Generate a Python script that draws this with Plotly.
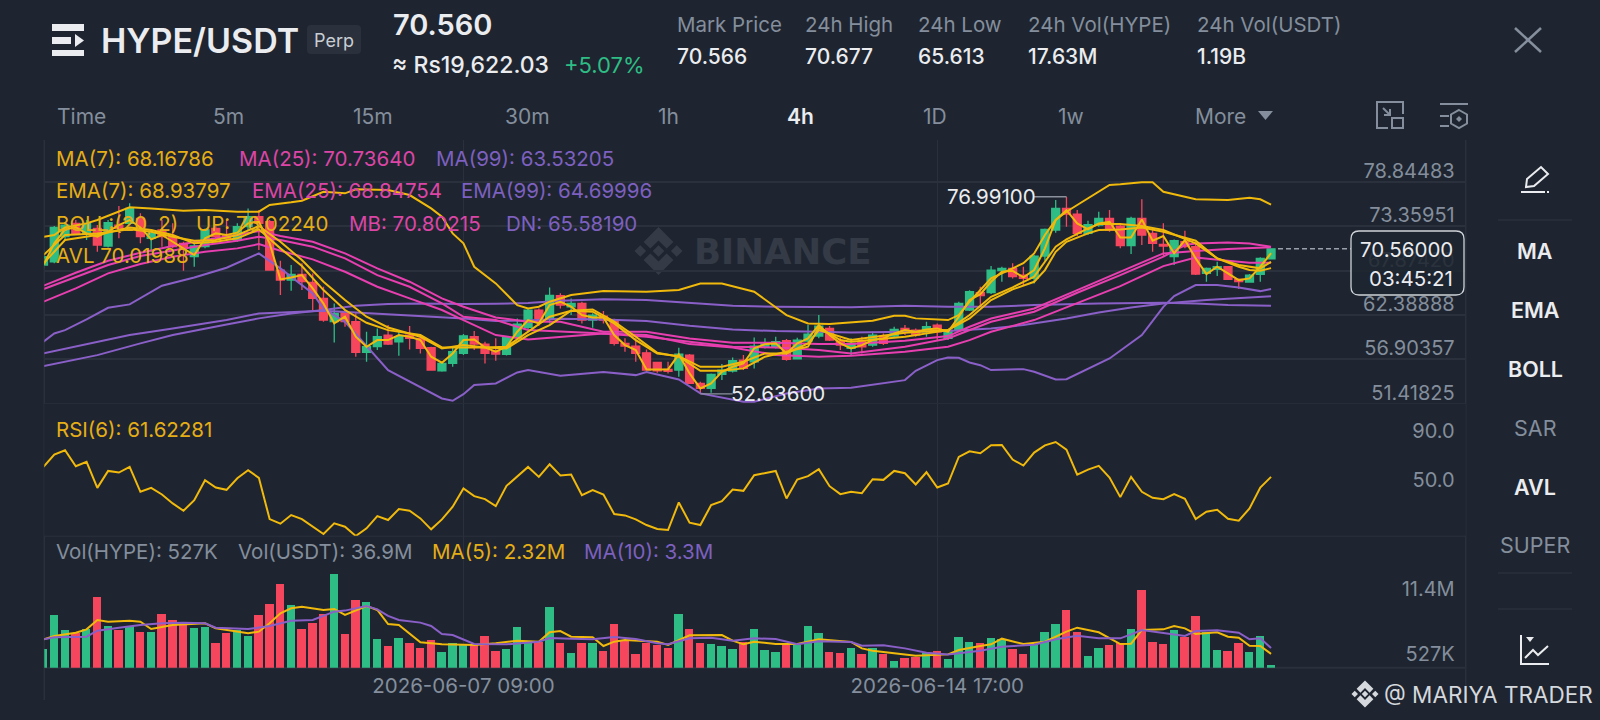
import pandas as pd
import plotly.graph_objects as go

# -----------------------------
# data (4h candles)
# -----------------------------
OPEN = [68.55,68.96,72.05,73.7,72.46,73.08,70.9,73.49,73.7,74.32,71.85,72.88,72.05,71.23,69.58,70.82,73.08,72.26,71.64,73.29,
        74.52,73.91,67.93,66.7,67.4,66.41,64.43,61.55,62.66,61.55,57.76,58.46,59.9,59.07,59.9,59.49,58.33,55.49,56.4,57.63,
        59.69,58.79,57.92,57.51,59.61,60.85,62.99,61.96,64.76,63.4,63.81,61.75,62.25,61.75,58.87,58.54,57.71,56.52,55.65,55.57,
        57.43,53.92,53.31,55.04,55.45,56.81,56.6,58.37,58.46,59.2,56.97,59.16,59.77,60.72,59.16,58.25,59.07,58.66,59.77,59.77,
        60.72,60.51,60.31,61.13,59.49,60.51,62.99,65.13,65.13,67.85,68.14,67.31,66.9,69.66,72.87,75.55,74.85,72.46,73.49,74.32,
        73.37,70.94,74.32,72.46,71.1,69.58,71.43,70.82,67.52,68.01,68.34,66.78,66.45,67.4,69.33]
HIGH = [70.4,73.37,73.7,74.11,74.11,73.49,74.11,75.84,76.17,74.94,72.88,74.11,73.7,71.43,71.23,73.08,73.37,74.11,73.7,75.55,
        75.35,74.11,69.09,68.55,68.76,67.52,65.87,63.81,62.99,62.58,60.31,60.72,61.13,60.31,61.01,59.9,58.46,56.6,58.37,60.02,
        60.39,59.07,59.49,59.78,61.96,63.19,63.19,65.79,65.05,64.43,64.02,62.58,62.86,61.92,59.49,59.49,58.13,56.6,56.6,58.33,
        57.55,54.13,55.16,56.31,57.14,57.43,59.61,59.49,59.69,59.4,59.57,61.13,62.37,61.01,59.57,59.49,59.69,60.31,60.1,60.93,
        61.13,60.72,61.55,61.34,60.6,64.02,65.45,65.87,68.43,68.34,68.77,68.34,69.79,73.08,76.58,76.991,75.35,74.03,75.14,75.35,
        73.49,74.52,76.67,73.08,73.7,71.72,72.79,71.43,68.26,68.96,68.43,66.9,67.44,69.5,70.56]
LOW = [68.14,68.76,71.64,72.26,71.64,70.2,70.73,71.85,73.49,71.23,70.2,70.82,70.61,67.85,68.34,70.61,71.64,71.64,71.43,72.88,
       70.4,67.85,64.84,65.38,65.46,62.99,61.55,58.99,60.93,57.22,56.6,58.04,58.66,57.34,58.13,57.63,55.49,55.37,55.98,57.43,
       58.04,56.4,56.73,57.38,59.49,60.31,61.01,61.34,63.19,62.37,61.34,60.8,61.34,58.62,57.84,56.6,55.49,55.24,55.16,54.75,
       53.84,52.636,52.77,54.34,55.28,55.57,55.78,58.25,58.25,56.73,56.89,59.03,59.49,59.16,58.04,57.43,57.63,58.45,58.66,59.6,
       59.9,59.69,59.69,59.28,59.28,60.39,62.86,63.4,64.96,66.49,66.9,65.95,66.28,69.09,72.55,73.29,72.13,72.26,73.29,72.67,
       70.61,69.91,71.02,70.2,69.58,68.55,70.61,67.31,66.49,67.19,66.69,65.58,66.37,66.49,69.29]
CLOSE = [69.58,73.21,73.49,72.38,73.7,71.02,73.78,73.08,75.55,72.05,72.46,72.05,70.82,70.61,70.9,72.88,72.05,71.85,73.29,74.52,
         73.7,67.93,66.7,67.4,66.49,64.43,61.75,62.58,61.55,57.76,58.46,59.69,58.79,59.69,59.49,58.25,55.57,56.4,57.84,59.8,
         58.79,57.63,57.55,59.61,61.26,62.99,61.96,64.8,63.61,63.81,61.75,62.37,61.75,58.87,58.54,57.63,55.57,55.49,55.41,57.55,
         53.92,53.31,55.04,55.57,56.73,55.78,58.54,58.87,59.07,56.89,59.28,60.02,61.01,59.28,58.66,58.87,58.45,59.9,58.87,60.6,
         60.31,59.9,60.93,60.31,60.51,63.81,65.25,64.76,67.93,68.14,67.11,66.9,69.66,72.96,75.55,74.85,72.46,73.54,74.32,72.87,
         70.94,74.32,72.26,71.23,70.9,71.56,70.82,67.44,68.14,68.34,66.78,66.49,67.31,69.37,70.56]

AVL = [68.55,71.23,72.96,73.2,72.46,72.05,72.67,73.49,74.11,73.2,71.72,72.26,71.43,70.61,69.79,71.85,72.46,72.26,72.55,73.7,
       73.91,71.23,66.78,67.02,67.31,65.66,63.81,61.34,62.16,59.69,58.45,59.28,59.28,59.9,59.69,59.28,57.22,56.48,57.63,59.28,
       59.36,58.37,57.84,58.46,60.31,61.75,61.34,63.61,64.02,63.4,62.37,62.08,62.08,59.9,58.66,58.04,55.65,55.65,55.65,57.51,
       55.16,53.3,53.92,55.36,55.98,56.39,58.25,58.78,58.87,57.63,58.87,59.49,61.13,59.9,58.87,58.25,58.66,59.28,59.49,60.1,
       60.51,60.3,60.59,60.72,60.3,62.16,64.22,64.96,66.48,67.72,67.84,67.02,67.93,70.61,74.11,75.34,73.7,72.95,73.7,73.9,
       71.96,71.96,74.19,71.55,72.13,69.99,71.64,69.37,67.43,68.34,67.51,66.69,66.9,68.34,70.02]

MA7_K = [0,2,5,8,10,12,14,16,18,20,22,24,26,28,30,32,35,37,39,41,43,45,47,49,51,53,55,57,59,61,63,65,67,69,71,72,74,75,80,84,86,88,90,92,93,94,95,97,98,100,102,104,107,109,111,112,113,114]
MA7 = [68.75,71.64,72.26,73.2,72.88,72.26,71.23,71.43,71.85,72.96,70.61,68.43,65.46,62.99,61.42,60.51,59.9,58.37,58.37,58.37,58.25,59.9,61.13,62.91,63.07,61.55,59.69,57.71,57.22,55.49,55.49,55.78,57.22,57.84,58.46,60.84,59.28,59.07,59.69,60.51,61.95,64.22,65.54,66.48,67.93,70.19,71.43,72.46,72.87,72.95,73.2,72.67,71.55,69.37,68.34,67.93,67.85,68.168]
EMA7_K = [0,2,5,8,10,12,14,16,18,20,22,24,26,28,30,32,35,37,39,41,43,45,47,49,51,53,55,57,59,61,63,65,67,69,71,72,74,75,80,84,86,88,90,92,93,94,95,97,98,100,102,104,107,109,111,113,114]
EMA7 = [69.79,72.26,72.46,72.96,72.67,72.05,71.56,71.64,72.26,73.37,71.43,69.17,66.49,64.22,62.16,60.84,59.69,58.25,58.66,58.37,58.46,60.31,62.16,62.91,62.78,61.34,59.28,57.63,57.3,55.98,55.98,56.6,57.63,57.63,58.87,60.52,59.69,59.28,60.19,60.51,62.37,64.63,65.79,67.11,68.96,70.81,71.72,73.08,73.62,73.62,73.37,72.87,71.23,69.37,68.55,68.14,68.938]

PINK_K = [0,3,6,9,12,15,18,20,22,25,28,31,34,37,39,42,45,48,52,56,60,64,68,72,75]
MA25 = [66.0,67.6,69.08,70.07,70.9,71.64,72.26,72.75,72.13,71.43,69.99,68.14,66.49,64.43,63.4,62.08,61.55,61.55,60.31,60.31,59.48,58.95,58.95,58.78,58.78]
BOLL_MID = [65.58,67.11,68.55,69.66,70.32,71.02,71.56,72.05,71.64,70.82,69.37,67.31,65.87,63.81,62.16,61.75,60.52,60.31,60.1,59.69,59.07,58.45,58.37,58.04,57.63]
EMA25 = [64.02,65.66,67.52,68.67,69.58,70.2,70.61,71.14,70.32,69.25,67.72,65.87,64.43,62.99,61.75,59.9,59.36,59.69,60.1,59.9,58.78,58.37,57.43,57.22,57.34]
MA25_K2 = [80,84,86,88,92,96,100,104,107,110,114]
MA25_2 = [59.19,59.77,60.92,61.95,63.19,65.45,67.72,69.99,70.28,70.52,70.736]
BOLL_MID_K2 = [80,84,86,88,92,96,100,104,106,107,110,112,114]
BOLL_MID_2 = [58.45,59.48,60.51,61.54,62.78,65.13,67.31,69.58,71.02,71.22,71.35,71.22,70.802]
EMA25_K2 = [80,84,86,88,92,96,100,104,107,110,112,114]
EMA25_2 = [57.83,58.45,59.27,60.3,61.75,63.81,65.95,68.42,69.49,69.08,68.83,68.848]

MA99_K = [0,5,9,12,17,20,23,26,29,32,35,39,42,45,48,52,56,60,64,68,72,75,80,84,88,92,98,104,107,110,114]
MA99 = [56.06,57.42,58.87,59.9,61.21,61.96,62.57,62.99,63.52,63.73,63.81,63.73,63.77,63.85,64.14,64.31,64.22,63.89,63.52,63.4,63.32,63.32,63.52,63.39,63.39,63.6,63.81,63.89,63.81,63.6,63.532]
EMA99_K = [0,5,8,12,17,20,23,26,29,32,35,39,42,45,48,52,56,60,64,68,72,75,80,84,88,91,95,98,101,104,108,114]
EMA99 = [57.63,58.99,59.9,60.72,61.75,62.57,62.78,62.9,62.7,62.49,62.29,61.96,61.63,61.71,61.92,61.83,61.63,61.05,60.6,60.39,60.31,60.23,60.3,60.39,60.72,61.13,61.95,62.69,63.31,63.81,64.22,64.7]

BOLL_UP_K = [0,1,2,4,5,7,8,10,13,15,18,20,21,23,24,26,28,29,32,34,36,37,38,39,40,42,44,45,46,47,49,52,56,59,61,63,66,69,71,73,75,77,79,80,81,84,85,86,88,90,91,92,93,94,95,96,97,99,100,102,103,104,107,110,112,113,114]
BOLL_UP = [72.05,72.26,73.2,73.7,74.11,75.14,75.68,75.55,75.26,75.35,75.14,75.14,75.97,76.3,76.5,77.61,77.41,77.9,77.82,77.2,75.55,74.52,72.46,71.23,68.34,66.28,63.6,63.19,63.4,64.02,64.84,65.34,65.25,65.46,66.28,66.28,65.25,62.37,61.34,61.26,61.46,61.67,62.29,62.29,61.96,61.75,62.37,64.02,66.9,68.14,68.77,69.99,72.26,74.11,75.14,75.97,76.79,78.44,78.52,78.77,78.77,77.61,76.67,76.58,76.87,76.67,76.022]
BOLL_DN_K = [0,1,2,4,6,8,11,14,17,20,22,25,26,28,32,35,37,38,39,40,42,44,45,48,52,55,56,59,61,65,66,69,72,75,80,81,83,84,85,86,87,88,91,92,94,95,97,99,102,104,105,107,109,111,113,114]
BOLL_DN = [59.07,60.1,60.51,61.83,63.27,63.69,66.0,67.02,68.22,69.99,68.14,65.05,63.19,61.54,55.57,53.51,52.07,51.78,52.6,53.72,53.92,55.28,55.57,54.87,55.32,54.95,55.32,54.42,52.69,51.66,51.66,52.69,53.3,53.39,54.33,55.48,56.8,57.13,57.09,56.51,56.18,55.57,55.69,55.36,54.41,54.45,55.77,57.01,59.89,63.39,64.71,66.07,66.07,65.78,65.33,65.582]

RSI = [69.74,79.75,83.26,70.28,73.8,52.7,66.49,65.14,69.74,49.46,52.7,47.29,39.99,34.04,42.69,58.92,52.97,51.08,60.54,67.04,
       60.82,27.28,23.49,30.52,27.28,21.06,15.11,23.76,21.06,13.49,19.71,29.71,26.47,35.39,34.04,27.82,18.9,27.01,37.29,52.16,
       45.94,43.51,37.83,54.32,62.17,69.74,61.63,71.9,62.71,63.52,46.75,50.81,47.29,31.34,30.25,27.01,22.41,19.17,18.35,40.8,
       24.3,22.41,38.64,41.88,51.35,50.27,62.98,64.6,66.49,44.05,59.46,62.17,67.85,54.05,47.56,49.46,48.37,59.73,59.19,66.49,
       64.6,55.41,65.41,52.97,56.22,77.85,82.45,80.83,87.32,87.59,75.69,70.82,81.37,87.32,90.02,83.8,63.52,67.58,70.55,61.09,
       45.13,61.63,49.46,44.59,43.51,47.56,43.78,27.28,33.23,34.85,27.55,25.93,35.93,52.97,61.62]

VOLUME = [3.25,8.87,6.34,5.89,6.62,11.95,7.01,6.45,7.13,6.06,6.06,9.03,8.02,7.58,6.68,6.9,4.15,5.95,6.34,5.33,
          8.92,10.72,14.2,10.66,6.57,7.58,9.03,15.77,5.67,11.39,11.17,4.88,3.7,5.11,4.26,3.37,4.66,2.64,4.26,4.1,
          3.82,5.44,2.86,3.14,6.85,4.26,4.38,10.27,4.15,2.53,4.15,4.21,2.86,7.35,4.66,2.41,4.26,3.82,3.42,9.09,
          6.57,4.15,4.04,3.65,3.2,4.38,6.51,2.97,2.64,3.82,3.82,7.13,5.95,2.69,2.47,3.31,2.41,3.42,2.41,1.23,
          1.63,1.85,2.53,2.81,1.52,5.22,4.38,4.26,5.11,4.94,3.2,2.41,3.82,6.06,7.35,9.82,6.12,2.08,3.37,3.82,
          4.26,6.62,13.08,4.43,4.1,6.4,5.22,8.7,6.06,3.03,2.92,4.15,2.69,5.39,0.527]
VOL_MA5_K = [0,1,3,4,5,6,8,9,10,12,15,16,19,20,21,22,23,24,26,27,28,30,31,32,33,35,37,40,42,44,46,47,48,49,51,52,53,54,57,58,60,63,64,65,66,68,70,72,75,76,77,79,81,84,85,87,88,89,91,93,95,96,98,100,101,102,104,105,106,107,109,110,111,112,113,114]
VOL_MA5 = [4.77,5.33,5.89,6.45,8.02,7.74,7.91,7.74,6.51,7.18,7.46,6.62,5.78,6.06,7.46,9.15,9.99,10.27,9.71,9.88,8.87,10.38,9.71,7.35,7.18,4.26,3.93,3.82,4.1,4.55,4.38,5.95,6.17,5.22,5.11,3.65,4.38,4.66,4.38,3.82,5.44,5.5,4.55,3.93,4.38,3.98,3.98,4.77,4.32,3.25,2.86,2.41,2.02,2.24,2.97,3.65,3.93,4.88,3.98,4.38,6.06,6.73,5.95,3.98,4.04,6.34,6.45,7.01,6.62,5.67,5.95,5.22,5.05,3.7,3.65,2.32]
VOL_MA10_K = [0,1,4,5,7,9,11,13,15,16,19,21,23,25,27,28,30,31,32,33,35,36,37,38,40,43,46,47,49,51,53,55,57,58,60,62,64,66,68,70,72,75,76,78,80,82,84,87,89,92,94,96,98,100,101,102,106,107,109,111,112,113,114]
VOL_MA10 = [4.77,5.11,5.22,6.23,6.73,7.18,7.46,7.58,7.46,6.73,6.51,7.01,7.91,8.02,9.43,9.6,10.38,9.82,8.7,8.02,7.58,7.01,5.67,5.5,3.98,3.93,4.38,4.99,4.88,4.77,5.16,4.83,4.1,3.93,4.94,5.05,4.55,4.94,4.83,3.93,4.43,4.32,3.7,3.76,3.25,2.53,2.24,2.86,3.54,3.87,4.77,5.39,4.94,4.94,5.61,6.34,5.33,6.17,6.29,5.89,4.77,4.94,3.3]

PRICE_TICKS = [78.84483, 73.35951, 67.87420, 62.38888, 56.90357, 51.41825]
RSI_TICKS = [90, 50]
VOL_TICKS = [11.4, 0.527]
VOL_TICK_TEXT = ["11.4M", "527K"]
TIME_TICKS = ["2026-06-07 09:00", "2026-06-14 17:00"]
LAST_PRICE = 70.56
HIGH_LABEL, LOW_LABEL = 76.991, 52.636

DATES = pd.date_range("2026-05-31 21:00", periods=len(CLOSE), freq="4h")

BG = "#1e2530"
GRID = "#2a313c"
GREY = "#848e9c"
WHITE = "#eaecef"
GREEN = "#2ebd85"
RED = "#f6465d"
YELLOW = "#f0b90b"
PINK = "#e83fb0"
PURPLE = "#8a5fc8"
FONT = "Inter, Noto Sans, sans-serif"
W, H = 1600, 720


def px(x):
    return x / W


def py(y):
    return 1 - y / H


def path(points, close=True):
    s = " ".join(("M" if i == 0 else "L") + f"{px(x)},{py(y)}" for i, (x, y) in enumerate(points))
    return s + (" Z" if close else "")


def rrect(x0, y0, x1, y1, r):
    return (f"M{px(x0 + r)},{py(y0)} L{px(x1 - r)},{py(y0)} Q{px(x1)},{py(y0)} {px(x1)},{py(y0 + r)} "
            f"L{px(x1)},{py(y1 - r)} Q{px(x1)},{py(y1)} {px(x1 - r)},{py(y1)} "
            f"L{px(x0 + r)},{py(y1)} Q{px(x0)},{py(y1)} {px(x0)},{py(y1 - r)} "
            f"L{px(x0)},{py(y0 + r)} Q{px(x0)},{py(y0)} {px(x0 + r)},{py(y0)} Z")


def binance_logo(cx, cy, r, color, layer="below"):
    parts = []
    for dx in (-0.76, 0, 0.76):
        parts.append(path([(cx + (dx - 0.24) * r, cy), (cx + dx * r, cy - 0.24 * r),
                           (cx + (dx + 0.24) * r, cy), (cx + dx * r, cy + 0.24 * r)]))
    for s in (-1, 1):
        parts.append(path([(cx, cy + s * r), (cx + 0.62 * r, cy + s * 0.38 * r), (cx + 0.34 * r, cy + s * 0.1 * r),
                           (cx, cy + s * 0.44 * r), (cx - 0.34 * r, cy + s * 0.1 * r), (cx - 0.62 * r, cy + s * 0.38 * r)]))
    return dict(type="path", xref="paper", yref="paper", path=" ".join(parts), fillcolor=color,
                line=dict(width=0), layer=layer)


def line_shape(points, color=GREY, width=2, close=False, fill=None, layer="above"):
    d = dict(type="path", xref="paper", yref="paper", path=path(points, close),
             line=dict(color=color, width=width), layer=layer)
    if fill:
        d["fillcolor"] = fill
        d["line"] = dict(width=0)
    return d


annotations = []


def txt(x, y, s, color=GREY, size=20.5, anchor="left", weight=400, family=FONT):
    annotations.append(dict(xref="paper", yref="paper", x=px(x), y=py(y), text=s, showarrow=False,
                            xanchor=anchor, yanchor="middle", borderpad=0,
                            font=dict(family=family, size=size, color=color, weight=weight)))


# -----------------------------
# traces
# -----------------------------
fig = go.Figure()

fig.add_trace(go.Candlestick(x=DATES, open=OPEN, high=HIGH, low=LOW, close=CLOSE, xaxis="x", yaxis="y",
                             increasing=dict(line=dict(color=GREEN, width=1.3), fillcolor=GREEN),
                             decreasing=dict(line=dict(color=RED, width=1.3), fillcolor=RED),
                             whiskerwidth=0, hoverinfo="skip"))


def add_line(k, values, color, xaxis="x", yaxis="y", width=2):
    fig.add_trace(go.Scatter(x=DATES[k], y=values, mode="lines", xaxis=xaxis, yaxis=yaxis,
                             line=dict(color=color, width=width), hoverinfo="skip"))


add_line(MA99_K, MA99, PURPLE)
add_line(EMA99_K, EMA99, PURPLE)
add_line(BOLL_DN_K, BOLL_DN, PURPLE)
add_line(PINK_K + MA25_K2, MA25 + MA25_2, PINK)
add_line(PINK_K + BOLL_MID_K2, BOLL_MID + BOLL_MID_2, PINK)
add_line(PINK_K + EMA25_K2, EMA25 + EMA25_2, PINK)
add_line(BOLL_UP_K, BOLL_UP, YELLOW)
add_line(MA7_K, MA7, YELLOW)
add_line(EMA7_K, EMA7, YELLOW)
add_line(list(range(len(AVL))), AVL, YELLOW)

# max/min leaders
add_line([92, 95], [HIGH_LABEL, HIGH_LABEL], "#8b929c", width=1.3)
add_line([61, 64], [LOW_LABEL, LOW_LABEL], "#8b929c", width=1.3)

add_line(list(range(len(RSI))), RSI, YELLOW, "x2", "y2")

bar_colors = [GREEN if c >= o else RED for o, c in zip(OPEN, CLOSE)]
fig.add_trace(go.Bar(x=DATES, y=VOLUME, xaxis="x3", yaxis="y3", marker=dict(color=bar_colors, line=dict(width=0)),
                     width=4 * 3600 * 1000 * 0.78, hoverinfo="skip"))
add_line(VOL_MA5_K, VOL_MA5, YELLOW, "x3", "y3")
add_line(VOL_MA10_K, VOL_MA10, PURPLE, "x3", "y3")

# -----------------------------
# axes: 10.768 px per candle, first candle at x=43.5
# -----------------------------
X_LEFT, X_RIGHT = 44.3, 1465.7
PRICE_TOP, PRICE_BOTTOM = 140, 403.7
RSI_BOTTOM, VOL_BOTTOM = 535.7, 667.7
x_range = [DATES[0] + pd.Timedelta(hours=4 * (X_LEFT - 43.5) / 10.768),
           DATES[0] + pd.Timedelta(hours=4 * (X_RIGHT - 43.5) / 10.768)]

xaxis_common = dict(domain=[px(X_LEFT), px(X_RIGHT)], range=x_range, type="date", tickmode="array", tickvals=TIME_TICKS,
                    showgrid=True, gridcolor=GRID, gridwidth=1, zeroline=False, showline=False, ticks="",
                    rangeslider=dict(visible=False))
yaxis_common = dict(side="right", ticklabelposition="inside top", zeroline=False, showline=False, ticks="",
                    tickfont=dict(family=FONT, size=20, color=GREY), tickmode="array",
                    ticklabelstandoff=8, ticklabelshift=3)

fig.update_layout(
    width=W, height=H, autosize=False, margin=dict(l=0, r=0, t=0, b=0), paper_bgcolor=BG, plot_bgcolor=BG,
    showlegend=False, hovermode=False, bargap=0,
    boxgap=0.26, boxgroupgap=0,
    xaxis=dict(xaxis_common, anchor="y", showticklabels=False),
    xaxis2=dict(xaxis_common, anchor="y2", showticklabels=False),
    xaxis3=dict(xaxis_common, anchor="y3", showticklabels=True, ticktext=TIME_TICKS,
                tickfont=dict(family=FONT, size=20.5, color=GREY), ticklabelstandoff=4),
    # price panel runs 3.3px past its last gridline, otherwise plotly drops the 51.41825 label
    yaxis=dict(yaxis_common, anchor="x", domain=[py(PRICE_BOTTOM + 3.3), py(PRICE_TOP)], range=[51.0106, 84.0],
               tickvals=PRICE_TICKS, tickformat=".5f", showgrid=True, gridcolor=GRID, gridwidth=2),
    yaxis2=dict(yaxis_common, anchor="x2", domain=[py(RSI_BOTTOM), py(PRICE_BOTTOM)], range=[13.73, 121.2],
                tickvals=RSI_TICKS, tickformat=".1f", showgrid=False),
    yaxis3=dict(yaxis_common, anchor="x3", domain=[py(VOL_BOTTOM), py(RSI_BOTTOM)], range=[0, 22.2],
                tickvals=VOL_TICKS, ticktext=VOL_TICK_TEXT, showgrid=False),
)

# -----------------------------
# header and side texts
# -----------------------------
txt(100, 40, "HYPE/USDT", WHITE, 34, weight=600)
txt(334, 40, "Perp", "#c9ced4", 18, anchor="center")
txt(392, 25, "70.560", WHITE, 29, weight=600)
txt(391, 65, "≈ Rs19,622.03", WHITE, 23, weight=500)
txt(563, 65, "+5.07%", GREEN, 22)

for x, label, value in [(676, "Mark Price", "70.566"), (804, "24h High", "70.677"), (917, "24h Low", "65.613"),
                        (1027, "24h Vol(HYPE)", "17.63M"), (1196, "24h Vol(USDT)", "1.19B")]:
    txt(x, 25, label, GREY, 20.5)
    txt(x, 57, value, WHITE, 21, weight=500)

for x, label in [(56, "Time"), (212, "5m"), (352, "15m"), (504, "30m"), (657, "1h"), (922, "1D"), (1057, "1w"), (1194, "More")]:
    txt(x, 117, label, GREY, 21)
txt(786, 117, "4h", WHITE, 21, weight=600)

for y, label, color, weight in [(251, "MA", WHITE, 600), (310, "EMA", WHITE, 600), (369, "BOLL", WHITE, 600),
                                (428, "SAR", GREY, 400), (487, "AVL", WHITE, 600), (545, "SUPER", GREY, 400)]:
    txt(1535, y, label, color, 21.5, anchor="center", weight=weight)

# indicator read-outs
LEG_GOLD, LEG_PINK, LEG_PURPLE = "#e5ae17", "#dc45a6", "#7d60bf"
txt(55, 158, "MA(7): 68.16786", LEG_GOLD)
txt(238, 158, "MA(25): 70.73640", LEG_PINK)
txt(435, 158, "MA(99): 63.53205", LEG_PURPLE)
txt(55, 191, "EMA(7): 68.93797", LEG_GOLD)
txt(251, 191, "EMA(25): 68.84754", LEG_PINK)
txt(460, 191, "EMA(99): 64.69996", LEG_PURPLE)
txt(55, 223, "BOLL:(20, 2)", LEG_GOLD)
txt(195, 223, "UP: 76.02240", LEG_GOLD)
txt(348, 223, "MB: 70.80215", LEG_PINK)
txt(505, 223, "DN: 65.58190", LEG_PURPLE)
txt(55, 255, "AVL 70.01988", LEG_GOLD)
txt(55, 429, "RSI(6): 61.62281", LEG_GOLD)
txt(55, 551, "Vol(HYPE): 527K", GREY)
txt(237, 551, "Vol(USDT): 36.9M", GREY)
txt(431, 551, "MA(5): 2.32M", LEG_GOLD)
txt(583, 551, "MA(10): 3.3M", LEG_PURPLE)

txt(693, 251, "BINANCE", "#343b46", 35.5, weight=700, family="DejaVu Sans")
txt(1383, 694, "@ MARIYA TRADER", "#d5d8dd", 22.5)

# max/min and current price labels
annotations.append(dict(xref="x", yref="y", x=DATES[92], y=HIGH_LABEL, text="76.99100", showarrow=False, xanchor="right",
                        yanchor="middle", xshift=4, font=dict(family=FONT, size=20.5, color=WHITE)))
annotations.append(dict(xref="x", yref="y", x=DATES[64], y=LOW_LABEL, text="52.63600", showarrow=False, xanchor="left",
                        yanchor="middle", xshift=-4, font=dict(family=FONT, size=20.5, color=WHITE)))
txt(1454, 249, "70.56000", WHITE, 20.5, anchor="right")
txt(1454, 278, "03:45:21", WHITE, 20.5, anchor="right")

# -----------------------------
# chrome: frame lines, icons, price box
# -----------------------------
shapes = [
    line_shape([(44.3, 140), (44.3, 700)], GRID, 1.5, layer="below"),
    line_shape([(1465.7, 140), (1465.7, 700)], GRID, 1.5, layer="below"),
    line_shape([(44.3, RSI_BOTTOM), (1465.7, RSI_BOTTOM)], GRID, 2, layer="below"),
    line_shape([(44.3, VOL_BOTTOM), (1465.7, VOL_BOTTOM)], GRID, 2, layer="below"),
    line_shape([(1498, 220), (1572, 220)], GRID, 1.5),
    line_shape([(1498, 573), (1572, 573)], GRID, 1.5),
    line_shape([(1498, 609), (1572, 609)], GRID, 1.5),
    binance_logo(658.5, 251, 24, "#343b46"),
    binance_logo(1365, 694, 13.5, "#d5d8dd", "above"),
    # menu icon
    line_shape([(52, 24), (84, 24), (84, 31), (52, 31)], close=True, fill=WHITE),
    line_shape([(52, 37), (71, 37), (71, 44), (52, 44)], close=True, fill=WHITE),
    line_shape([(75, 34), (84, 40.5), (75, 47)], close=True, fill=WHITE),
    line_shape([(52, 50), (84, 50), (84, 56), (52, 56)], close=True, fill=WHITE),
    # perp badge
    dict(type="path", xref="paper", yref="paper", path=rrect(307, 25, 361, 54, 4), fillcolor="#2a313c", line=dict(width=0), layer="below"),
    # more arrow
    line_shape([(1258, 111), (1273, 111), (1265.5, 120)], close=True, fill=GREY),
    # close
    line_shape([(1515, 28), (1541, 52)], GREY, 2.5),
    line_shape([(1541, 28), (1515, 52)], GREY, 2.5),
    # resize icon
    line_shape([(1388, 128), (1377, 128), (1377, 102), (1403, 102), (1403, 114)], GREY, 2),
    line_shape([(1392, 118), (1403, 118), (1403, 128), (1392, 128)], GREY, 2, close=True),
    line_shape([(1383, 108), (1390, 115)], GREY, 2),
    line_shape([(1384, 115), (1390, 115), (1390, 109)], GREY, 2),
    # settings icon
    line_shape([(1440, 104), (1468, 104)], GREY, 2),
    line_shape([(1440, 116), (1449, 116)], GREY, 2),
    line_shape([(1440, 126), (1449, 126)], GREY, 2),
    line_shape([(1459, 110), (1467, 114.5), (1467, 123.5), (1459, 128), (1451, 123.5), (1451, 114.5)], GREY, 2, close=True),
    line_shape([(1459, 116), (1462, 119), (1459, 122), (1456, 119)], close=True, fill=GREY),
    # pencil
    line_shape([(1526, 187), (1527, 179), (1541, 167), (1548, 174), (1534, 186)], WHITE, 2, close=True),
    line_shape([(1521, 192), (1545, 192)], WHITE, 2),
    line_shape([(1547, 192), (1549, 192)], WHITE, 2),
    # chart icon
    line_shape([(1521, 635), (1521, 664), (1549, 664)], WHITE, 2),
    line_shape([(1525, 658), (1533, 650), (1538, 655), (1548, 646)], WHITE, 2),
    line_shape([(1526, 637), (1534, 637), (1530, 642)], close=True, fill=WHITE),
    # last price
    dict(type="line", xref="paper", yref="y", x0=px(1278), x1=px(1351), y0=LAST_PRICE, y1=LAST_PRICE,
         line=dict(color="#9aa1ab", width=1.5, dash="5px,3px"), layer="above"),
    dict(type="path", xref="paper", yref="paper", path=rrect(1351, 231, 1464, 295, 8), fillcolor="rgba(30,37,48,0.88)",
         line=dict(color="#cfd3d8", width=1.3), layer="above"),
]

fig.update_layout(shapes=shapes, annotations=annotations)

# page body has a default margin, drop it so the figure fills the window
fig.write_html("out.html", config={"displayModeBar": False}, post_script="document.body.style.margin='0';")
